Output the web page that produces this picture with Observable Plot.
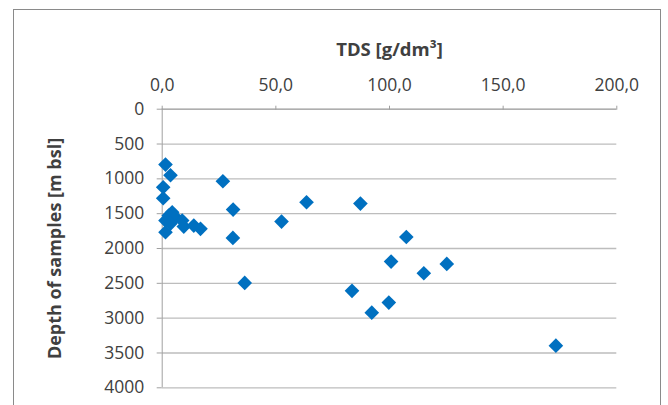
<!DOCTYPE html>
<html>
<head>
<meta charset="utf-8">
<script src="https://cdn.jsdelivr.net/npm/d3@7"></script>
<script src="https://cdn.jsdelivr.net/npm/@observablehq/plot@0.6"></script>
<style>
  html, body { margin: 0; padding: 0; background: #fff; }
  #wrap { position: relative; width: 668px; height: 405px; overflow: hidden; }
  #border { position: absolute; left: 13px; top: 9px; width: 648px; height: 420px; border: 1px solid #8a8a8a; box-sizing: border-box; pointer-events: none; }
</style>
</head>
<body>
<div id="wrap"><div id="border"></div></div>
<script>
// TDS [g/dm3] and depth [m bsl] of the samples
const tds = [1.45, 3.65, 0.44, 0.44, 4.4, 2.9, 5.85, 1.45, 8.8, 9.5, 3.65, 1.45, 13.9, 16.85,
  26.7, 31.2, 31.1, 36.3, 52.5, 63.5, 87.2, 107.4, 100.7, 125.2, 115.1, 83.5, 99.7, 92.2, 173.2];
const depth = [795, 948, 1121, 1279, 1480, 1527, 1552, 1599, 1599, 1685, 1642, 1767, 1671, 1718,
  1034, 1441, 1848, 2494, 1614, 1336, 1355, 1835, 2188, 2221, 2356, 2608, 2777, 2921, 3395];
const xTicks = [0, 50, 100, 150, 200];
const yTicks = [0, 500, 1000, 1500, 2000, 2500, 3000, 3500, 4000];
const xTitle = "TDS [g/dm³]";
const yTitle = "Depth of samples [m bsl]";

const data = tds.map((t, i) => ({tds: t, depth: depth[i]}));
const fmt = d => d3.format(".1f")(d).replace(".", ",");
const txt = "#404040";

const chart = Plot.plot({
  width: 668,
  height: 405,
  marginLeft: 161.7,
  marginRight: 51.7,
  marginTop: 108.7,
  marginBottom: 17.7,
  style: {fontFamily: "'Open Sans', sans-serif", fontSize: "17.5px", background: "transparent", color: txt},
  x: {domain: [0, 200], axis: null},
  y: {domain: [0, 4000], reverse: true, axis: null},
  marks: [
    Plot.gridY(yTicks, {stroke: "#bdbdbd", strokeOpacity: 1, strokeWidth: 1.3}),
    Plot.ruleX([0], {stroke: "#a0a0a0", strokeWidth: 1}),
    Plot.ruleY([0], {stroke: "#a0a0a0", strokeWidth: 1}),
    Plot.axisX({anchor: "top", ticks: xTicks, tickFormat: fmt, tickSize: 4, tickPadding: 14,
      label: null, stroke: "#a0a0a0", fill: txt, fontSize: 17.5}),
    Plot.axisY({anchor: "left", ticks: yTicks, tickFormat: d => String(d), tickSize: 5, tickPadding: 13,
      label: null, stroke: "#a0a0a0", fill: txt, fontSize: 17.5}),
    Plot.text([xTitle], {frameAnchor: "top", lineAnchor: "middle", dy: -58.7, text: d => d, fontWeight: "bold", fontSize: 18.5, fill: txt}),
    Plot.text([yTitle], {frameAnchor: "left", textAnchor: "middle", dx: -106.7, rotate: -90, text: d => d, fontWeight: "bold", fontSize: 18, fill: txt}),
    Plot.dot(data, {x: "tds", y: "depth", symbol: "diamond2", r: 6.6, fill: "#0070C0", stroke: "none"})
  ]
});
document.getElementById("wrap").prepend(chart);
</script>
</body>
</html>
